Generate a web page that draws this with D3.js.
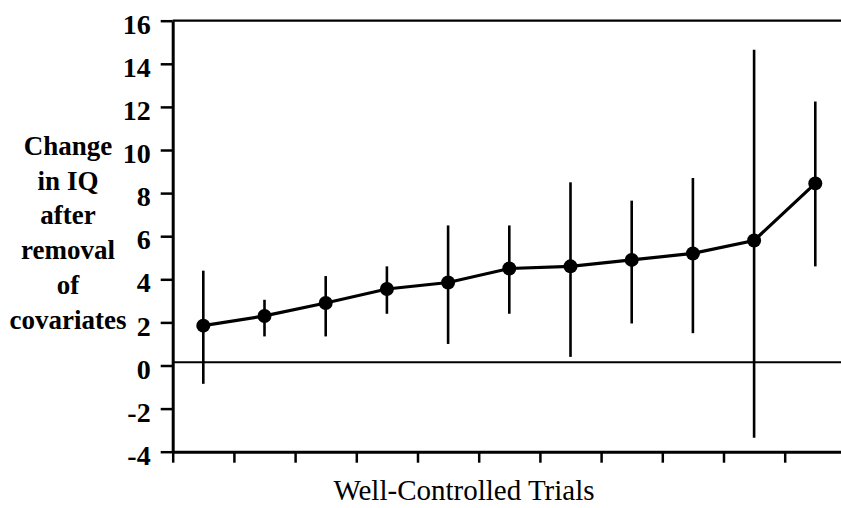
<!DOCTYPE html>
<html>
<head>
<meta charset="utf-8">
<script src="https://cdn.jsdelivr.net/npm/d3@7"></script>
</head>
<body style="margin:0; background:#fff">
<svg id="chart" width="841" height="508" font-family="Liberation Serif"></svg>
<script>
// Trials, ordered by their mean change in IQ
const trials = ["1", "2", "3", "4", "5", "6", "7", "8", "9", "10", "11"];
const meanChange = [1.85, 2.3, 2.9, 3.55, 3.85, 4.5, 4.6, 4.9, 5.2, 5.8, 8.45];
const upperLimit = [4.4, 3.05, 4.15, 4.6, 6.5, 6.5, 8.5, 7.65, 8.7, 14.65, 12.25];
const lowerLimit = [-0.85, 1.35, 1.35, 2.4, 1.0, 2.4, 0.4, 1.95, 1.5, -3.35, 4.6];
const yTicks = [-4, -2, 0, 2, 4, 6, 8, 10, 12, 14, 16];
const referenceLevel = 0.15;
const yLabelLines = ["Change", "in IQ", "after", "removal", "of", "covariates"];
const xTitle = "Well-Controlled Trials";

const svg = d3.select("#chart");
const plotLeft = 172.7, plotRight = 845.9, plotTop = 20.7, plotBottom = 451.7;
const textFont = "Liberation Serif";

const x = d3.scaleBand().domain(trials).range([plotLeft, plotRight]).padding(0);
const xEdges = d3.scaleLinear().domain([0, trials.length]).range([plotLeft, plotRight]);
const y = d3.scaleLinear().domain([-4, 16]).range([plotBottom, plotTop]);

// top frame line
svg.append("line")
  .attr("x1", plotLeft).attr("x2", plotRight)
  .attr("y1", y(16)).attr("y2", y(16))
  .attr("stroke", "#000").attr("stroke-width", 2.2);

// horizontal reference line near zero
svg.append("line")
  .attr("x1", plotLeft).attr("x2", plotRight)
  .attr("y1", y(referenceLevel)).attr("y2", y(referenceLevel))
  .attr("stroke", "#000").attr("stroke-width", 1.8);

// y axis (hyphen-minus for negative labels)
const yAxis = svg.append("g")
  .attr("transform", `translate(${plotLeft},0)`)
  .call(d3.axisLeft(y).tickValues(yTicks).tickSize(12).tickSizeOuter(0).tickPadding(10)
    .tickFormat(d => String(d)));
yAxis.attr("font-family", textFont).attr("font-size", 28).attr("font-weight", "bold");
yAxis.select(".domain").attr("stroke-width", 3);
yAxis.selectAll(".tick line").attr("stroke-width", 2.5);
yAxis.selectAll(".tick text")
  .attr("font-family", textFont)
  .attr("dy", "0.45em").attr("fill", "#000");

// x axis with ticks at trial boundaries
const xAxis = svg.append("g")
  .attr("transform", `translate(0,${plotBottom})`)
  .call(d3.axisBottom(xEdges).tickValues(d3.range(0, trials.length + 1))
    .tickSize(11).tickSizeOuter(0).tickFormat(""));
xAxis.select(".domain").attr("stroke-width", 3);
xAxis.selectAll(".tick line").attr("stroke-width", 2.5);

const cx = d => x(d) + x.bandwidth() / 2;

// error bars
svg.append("g").selectAll("line")
  .data(trials)
  .join("line")
  .attr("x1", d => cx(d)).attr("x2", d => cx(d))
  .attr("y1", (d, i) => y(upperLimit[i]))
  .attr("y2", (d, i) => y(lowerLimit[i]))
  .attr("stroke", "#000").attr("stroke-width", 2.6);

// connecting line
svg.append("path")
  .datum(trials)
  .attr("fill", "none")
  .attr("stroke", "#000").attr("stroke-width", 3.2)
  .attr("d", d3.line().x(d => cx(d)).y((d, i) => y(meanChange[i])));

// mean points
svg.append("g").selectAll("circle")
  .data(trials)
  .join("circle")
  .attr("cx", d => cx(d))
  .attr("cy", (d, i) => y(meanChange[i]))
  .attr("r", 7)
  .attr("fill", "#000");

// y axis title, stacked lines
svg.append("text")
  .attr("font-family", textFont)
  .attr("font-weight", "bold")
  .attr("font-size", 27)
  .attr("text-anchor", "middle").attr("fill", "#000")
  .selectAll("tspan")
  .data(yLabelLines)
  .join("tspan")
  .attr("x", 68)
  .attr("y", (d, i) => 155 + i * 34.7)
  .text(d => d);

// x axis title
svg.append("text")
  .attr("x", 464).attr("y", 500)
  .attr("font-family", textFont)
  .attr("font-size", 29)
  .attr("text-anchor", "middle").attr("fill", "#000")
  .text(xTitle);
</script>
</body>
</html>
